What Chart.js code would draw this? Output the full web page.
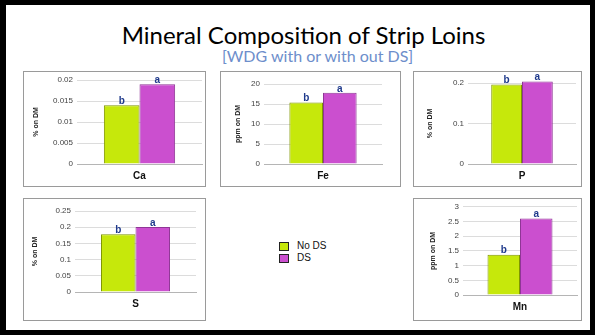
<!DOCTYPE html>
<html>
<head>
<meta charset="utf-8">
<script src="https://cdn.jsdelivr.net/npm/chart.js@4.4.1/dist/chart.umd.min.js"></script>
<style>
  html, body { margin: 0; padding: 0; background: #fff; }
  #slide {
    position: relative; width: 595px; height: 335px; overflow: hidden;
    box-sizing: border-box; border: 5px solid #000; border-left-width: 6px;
    background: #fff;
  }
  .abs { position: absolute; }
  .box { position: absolute; box-sizing: border-box; border: 1px solid #9a9a9a; }
  #title {
    position: absolute; left: 0; width: 595px; top: 15px; text-align: center;
    font-family: Lato, sans-serif; font-size: 24px; color: #000; white-space: nowrap;
  }
  #subtitle {
    position: absolute; left: 14px; width: 595px; top: 41px; text-align: center;
    font-family: Lato, sans-serif; font-size: 16px; color: #6d8ecb; white-space: nowrap;
  }
  .legend-item {
    position: absolute; font-family: "Liberation Sans", Arial, sans-serif;
    font-size: 10px; color: #111; line-height: 10px;
  }
  .legend-item span.sw {
    position: absolute; left: -18px; top: 1px; width: 8px; height: 7px;
    border: 1px solid #222;
  }
</style>
</head>
<body>
<div id="slide">
  <div id="title">Mineral Composition of Strip Loins</div>
  <div id="subtitle">[WDG with or with out DS]</div>
</div>
<script>
// data
const minerals = ["Ca", "Fe", "P", "S", "Mn"];
const seriesNames = ["No DS", "DS"];
const noDS = [0.014, 15.4, 0.196, 0.178, 1.37];
const withDS = [0.019, 17.8, 0.204, 0.201, 2.6];
const lettersNoDS = ["b", "b", "b", "b", "b"];
const lettersDS = ["a", "a", "a", "a", "a"];
const yTitles = ["% on DM", "ppm on DM", "% on DM", "% on DM", "ppm on DM"];
const yMax = [0.02, 20, 0.2, 0.25, 3];
const yStep = [0.005, 5, 0.1, 0.05, 0.5];

const colors = ["#c6e80b", "#cb4fcf"];
const borders = ["#7f9600", "#8f3696"];

// panel boxes (slide coords) and wanted plot areas
const panels = [
  { box: [23, 71, 183, 116], plot: [77, 80, 202, 164], titleX: 36 },
  { box: [220, 71, 181, 116], plot: [264, 84, 382, 164], titleX: 238 },
  { box: [413, 71, 169, 116], plot: [468, 83, 576, 164], titleX: 430 },
  { box: [23, 198, 183, 123], plot: [75, 211, 196, 292], titleX: 35 },
  { box: [413, 198, 169, 123], plot: [463, 205, 577, 295], titleX: 433 },
];

Chart.defaults.font.family = "'Liberation Sans', Arial, sans-serif";

const letterPlugin = {
  id: "letters",
  afterDatasetsDraw(chart) {
    const ctx = chart.ctx;
    const letters = chart.options.plugins.letters.values;
    ctx.save();
    ctx.fillStyle = "#1f3a8c";
    ctx.font = "bold 10px 'Liberation Sans', Arial, sans-serif";
    ctx.textAlign = "center";
    ctx.textBaseline = "bottom";
    chart.data.datasets.forEach((ds, i) => {
      chart.getDatasetMeta(i).data.forEach((bar) => {
        ctx.fillText(letters[i], bar.x, bar.y + 1);
      });
    });
    ctx.restore();
  },
};

const slide = document.getElementById("slide");
const offX = 6, offY = 5; // slide border

panels.forEach((p, i) => {
  const [bx, by, bw, bh] = p.box;
  const [pl, pt, pr, pb] = p.plot;

  const box = document.createElement("div");
  box.className = "box";
  box.style.left = bx - offX + "px";
  box.style.top = by - offY + "px";
  box.style.width = bw + "px";
  box.style.height = bh + "px";
  slide.appendChild(box);

  const canvas = document.createElement("canvas");
  canvas.className = "abs";
  canvas.width = bw;
  canvas.height = bh;
  canvas.style.left = bx - offX + "px";
  canvas.style.top = by - offY + "px";
  slide.appendChild(canvas);

  const yWidth = pl - bx;
  const xHeight = by + bh - pb;

  new Chart(canvas.getContext("2d"), {
    type: "bar",
    data: {
      labels: [minerals[i]],
      datasets: [
        {
          label: seriesNames[0],
          data: [noDS[i]],
          backgroundColor: colors[0],
          borderColor: borders[0],
          borderWidth: 1,
          clip: false,
        },
        {
          label: seriesNames[1],
          data: [withDS[i]],
          backgroundColor: colors[1],
          borderColor: borders[1],
          borderWidth: 1,
          clip: false,
        },
      ],
    },
    options: {
      responsive: false,
      animation: false,
      devicePixelRatio: 1,
      categoryPercentage: 0.57,
      barPercentage: 1,
      layout: {
        padding: { left: 0, top: pt - by, right: bx + bw - pr, bottom: 0 },
      },
      plugins: {
        legend: { display: false },
        tooltip: { enabled: false },
        letters: { values: [lettersNoDS[i], lettersDS[i]] },
      },
      scales: {
        x: {
          grid: { display: false, drawTicks: false },
          border: { display: true, color: "#b5b5b5" },
          ticks: {
            padding: 6,
            color: "#111",
            font: { size: 10, weight: "bold" },
          },
          afterFit: (s) => { s.height = xHeight; },
        },
        y: {
          min: 0,
          max: yMax[i],
          grid: { color: "#dcdcdc", drawTicks: false },
          border: { display: false },
          ticks: {
            stepSize: yStep[i],
            padding: 4,
            color: "#444",
            font: { size: 8 },
            callback: (v) => String(Math.round(v * 10000) / 10000),
          },
          title: {
            display: true,
            text: yTitles[i],
            color: "#222",
            font: { size: 7, weight: "bold" },
            padding: { top: p.titleX - bx - 4.2, bottom: 0 },
          },
          afterFit: (s) => { s.width = yWidth; },
        },
      },
    },
    plugins: [letterPlugin],
  });
});

// legend in the middle of the slide
const legendRows = [
  { text: seriesNames[0], color: colors[0], x: 297, y: 241 },
  { text: seriesNames[1], color: colors[1], x: 297, y: 253 },
];
legendRows.forEach((r) => {
  const item = document.createElement("div");
  item.className = "legend-item";
  item.style.left = r.x - offX + "px";
  item.style.top = r.y - offY + "px";
  const sw = document.createElement("span");
  sw.className = "sw";
  sw.style.background = r.color;
  item.appendChild(sw);
  item.appendChild(document.createTextNode(r.text));
  slide.appendChild(item);
});
</script>
</body>
</html>
